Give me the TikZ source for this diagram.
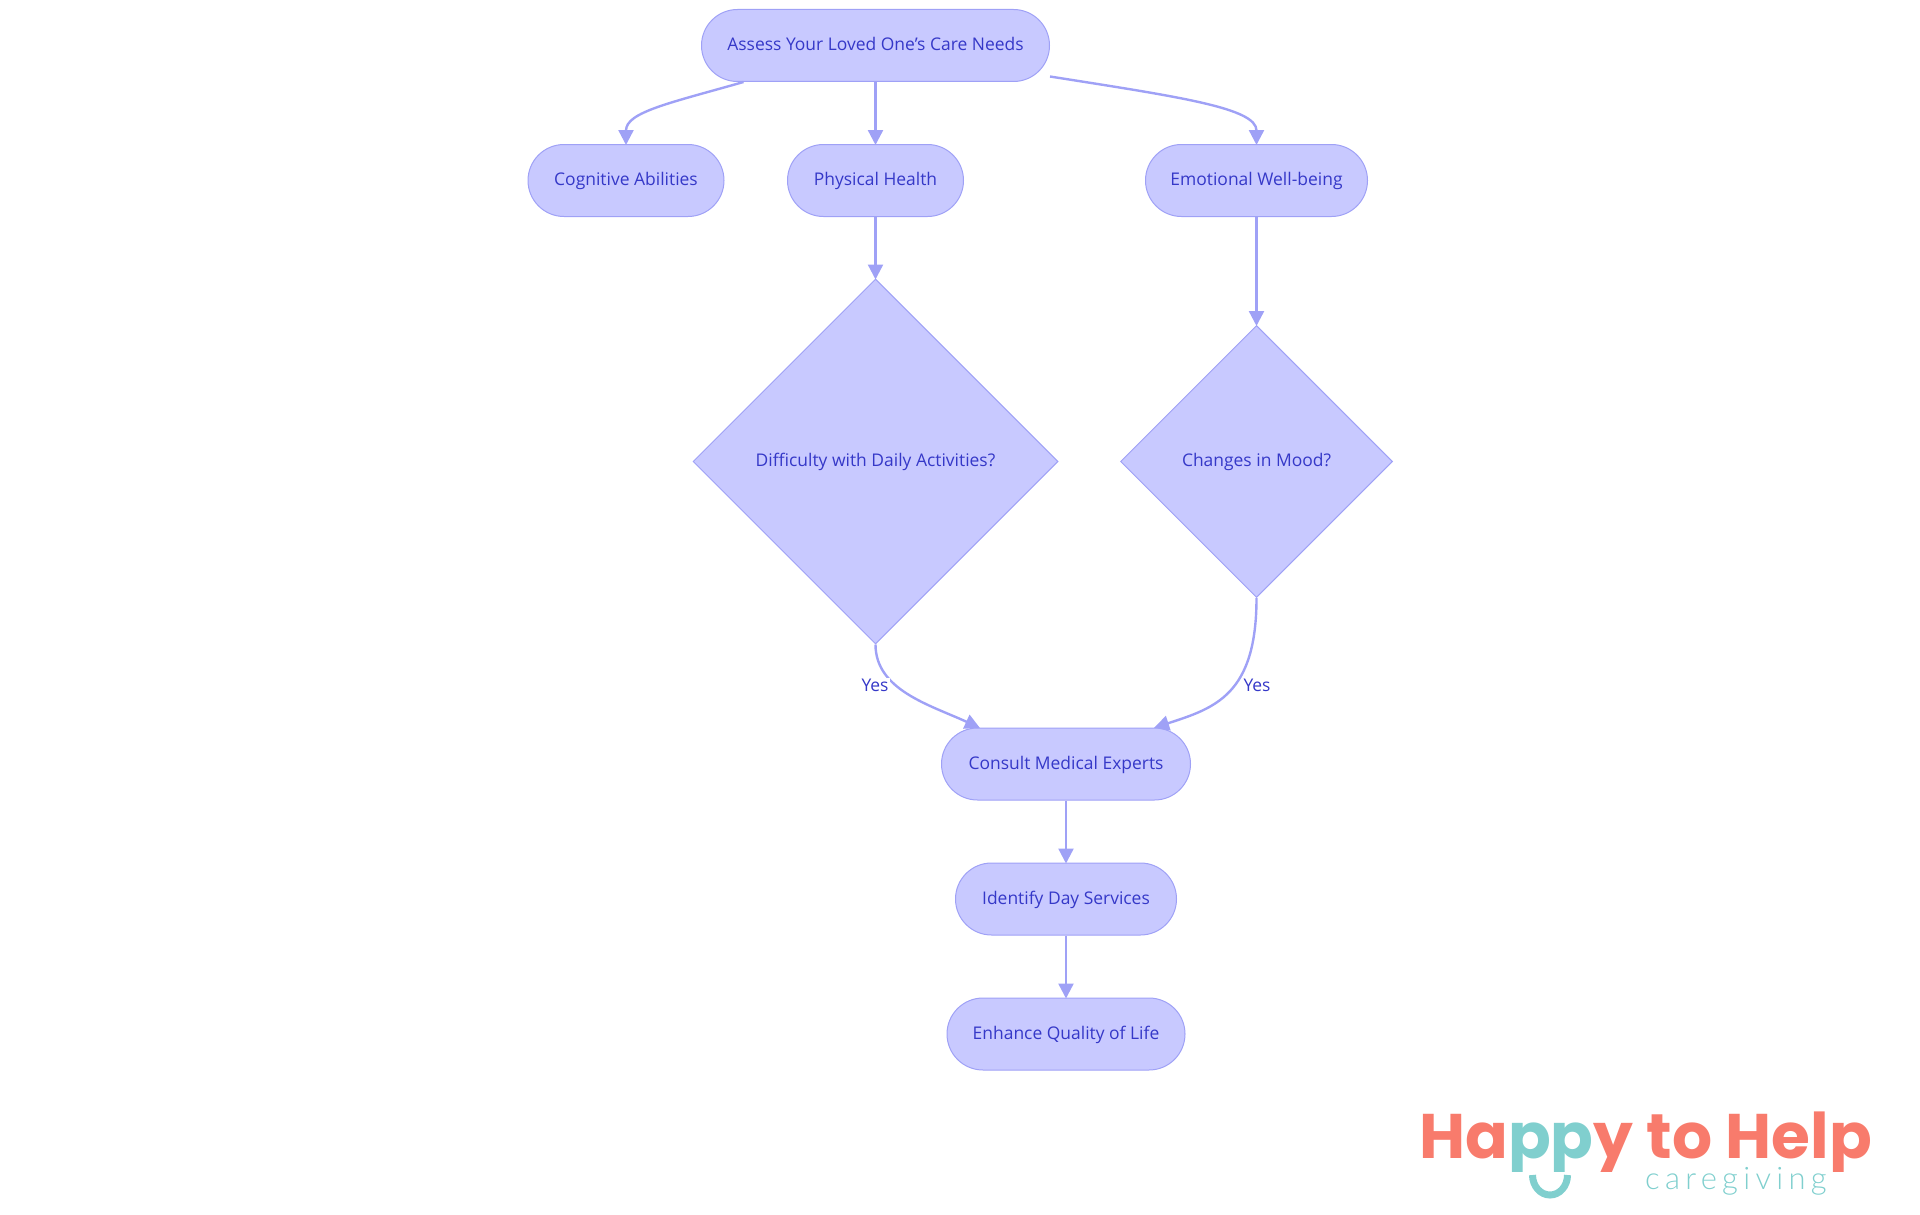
\documentclass[tikz,border=0pt]{standalone}
\usepackage{fontspec}
\setmainfont{Open Sans}
\newfontfamily\logofont{Poppins}
\newfontfamily\subfont[LetterSpace=17]{Lato Light}
\usetikzlibrary{shapes.geometric,arrows.meta,calc}
\definecolor{nodefill}{HTML}{C8C9FF}
\definecolor{nodeline}{HTML}{9FA1F6}
\definecolor{nodetext}{HTML}{3538C8}
\definecolor{coral}{HTML}{F87B6C}
\definecolor{teal}{HTML}{80CFCE}
\tikzset{
  pill/.style={draw=nodeline,fill=nodefill,text=nodetext,line width=1pt,rounded corners=36pt,minimum height=72pt,inner sep=0pt,text height=14.5pt,text depth=4pt,font=\fontsize{17.45}{20}\selectfont},
  choice/.style={draw=nodeline,fill=nodefill,text=nodetext,line width=1pt,diamond,aspect=1,inner sep=0pt,text height=14.5pt,text depth=4pt,font=\fontsize{17.45}{20}\selectfont},
  link/.style={draw=nodeline,line width=2.4pt,-{Triangle[length=15pt,width=15pt]},shorten >=-1pt},
  yeslabel/.style={fill=white,text=nodetext,inner sep=1pt,font=\fontsize{17.45}{20}\selectfont}
}
\begin{document}
\begin{tikzpicture}[x=1pt,y=-1pt]
\useasboundingbox (0,0) rectangle (1920,1215);
\node[pill,minimum width=348pt] (assess) at (875.5,45.5) {Assess Your Loved One’s Care Needs};
\node[pill,minimum width=196pt] (cog) at (626,180.5) {Cognitive Abilities};
\node[pill,minimum width=176pt] (phys) at (875.5,180.5) {Physical Health};
\node[pill,minimum width=222pt] (emo) at (1256.5,180.5) {Emotional Well-being};
\node[choice,minimum width=365pt,minimum height=365pt] (daily) at (875.5,461.5) {Difficulty with Daily Activities?};
\node[choice,minimum width=272pt,minimum height=272pt] (mood) at (1256.5,461.5) {Changes in Mood?};
\node[pill,minimum width=249pt] (consult) at (1066,764) {Consult Medical Experts};
\node[pill,minimum width=221pt] (identify) at (1066,899) {Identify Day Services};
\node[pill,minimum width=238pt] (enhance) at (1066,1034) {Enhance Quality of Life};
\draw[link] ($(assess.south)+(-132,0)$) .. controls (670,103) and (626,112) .. (cog.north);
\draw[link] (assess.south) -- (phys.north);
\draw[link] ($(assess.east)+(0,31)$) .. controls (1180,97) and (1256.5,108) .. (emo.north);
\draw[link] (phys.south) -- (daily.north);
\draw[link] (emo.south) -- (mood.north);
\draw[link] (daily.south) .. controls (875.5,690) and (930,705) .. ($(consult.north)+(-87,0)$);
\node[yeslabel] (yes1) at (875,685) {Yes};
\draw[link] (mood.south) .. controls (1256.5,695) and (1215,708) .. ($(consult.north)+(89,0)$);
\node[yeslabel] (yes2) at (1257,685) {Yes};
\draw[link] (consult.south) -- (identify.north);
\draw[link] (identify.south) -- (enhance.north);
\begin{scope}
\clip (1400,1100) rectangle (1900,1171.5);
\node[anchor=base west,inner sep=0pt,text=coral,font=\logofont\bfseries\fontsize{63}{63}\selectfont] (logo) at (1419,1158) {Ha\textcolor{teal}{pp}y to Help};
\end{scope}
\node[anchor=base west,inner sep=0pt,text=teal,font=\subfont\fontsize{31}{31}\selectfont] (sub) at (1645,1189) {caregiving};
\draw[teal,line width=7pt] (1532.5,1175) arc[start angle=180,end angle=360,x radius=17.5pt,y radius=20pt];
\end{tikzpicture}
\end{document}
